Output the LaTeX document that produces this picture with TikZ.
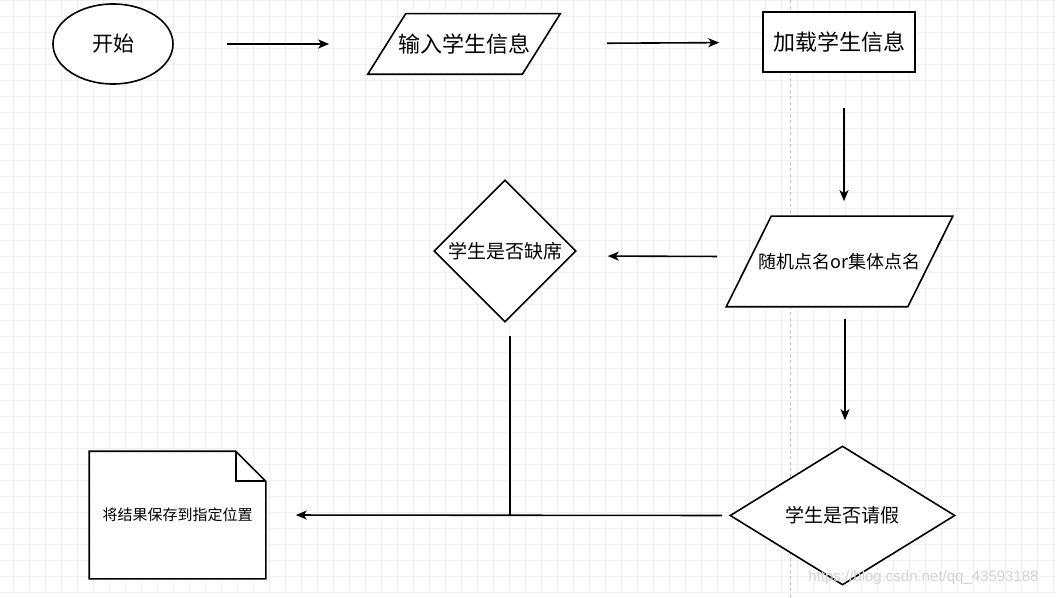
\documentclass[tikz,border=0pt]{standalone}
\usepackage{fontspec}
\setmainfont{Noto Sans CJK SC}
\newfontfamily\markfont{Liberation Sans}
\usetikzlibrary{arrows.meta,shapes.geometric,calc}

\begin{document}
\begin{tikzpicture}[x=1pt,y=1pt,line width=1.6pt,every node/.style={fill=white,inner sep=0pt},box/.style={draw,minimum width=152,minimum height=60},decision/.style={draw,diamond},arr/.style={-{Stealth[length=11pt,width=9pt,inset=3pt]}}]

\useasboundingbox[fill=white] (0,0) rectangle (1056,597);
\draw[gray!12,line width=0.6pt,step=16,shift={(13,5)}] (-13,-5) grid (1043,592);
\draw[gray!50,line width=0.6pt,dashed] (790,0) -- (790,597);

\node[draw,ellipse,minimum width=120,minimum height=80,font=\fontsize{21}{21}\selectfont] (start) at (113,553) {开始};
\node[fill=none,minimum width=191,minimum height=59] (input) at (464,553) {};
\draw[fill=white] ([xshift=38]input.north west) -- (input.north east) -- ([xshift=-38]input.south east) -- (input.south west) -- cycle;
\node[font=\fontsize{22}{22}\selectfont] at (input) {输入学生信息};
\node[box,font=\fontsize{22}{22}\selectfont] (load) at (839,555) {加载学生信息};
\node[fill=none,minimum width=225,minimum height=89] (call) at (839.5,335.5) {};
\draw[fill=white] ([xshift=45]call.north west) -- (call.north east) -- ([xshift=-45]call.south east) -- (call.south west) -- cycle;
\node[font=\fontsize{18}{18}\selectfont] at (call) {随机点名or集体点名};
\node[decision,minimum width=142,minimum height=142,font=\fontsize{19}{19}\selectfont] (absent) at (505,346) {学生是否缺席};
\node[decision,minimum width=225,minimum height=139,font=\fontsize{19}{19}\selectfont] (leave) at (842.5,81.5) {学生是否请假};
\node[fill=none,minimum width=175,minimum height=126] (doc) at (177.5,82) {};
\draw[fill=white] (doc.north west) -- ([xshift=-30]doc.north east) -- ([yshift=-30]doc.north east) -- (doc.south east) -- (doc.south west) -- cycle;
\draw ([xshift=-30]doc.north east) -- ++(0,-30) -- ([yshift=-30]doc.north east);
\node[font=\fontsize{15}{15}\selectfont] at (doc) {将结果保存到指定位置};

\draw[arr,shorten <=53,shorten >=38.5] (start) -- (input);
\draw[arr,shorten <=46.5,shorten >=43] (input) -- (load);
\draw[arr,shorten <=35,shorten >=15] ([xshift=5]load.south) -- ([xshift=5]load.south |- call.north);
\draw[arr,shorten <=9,shorten >=31] ([yshift=5]call.west) -- ([yshift=-5]absent.east);
\draw[arr,shorten <=12,shorten >=25] ([xshift=5.5]call.south) -- ([xshift=5.5]call.south |- leave.north);
\draw[arr,shorten <=7,shorten >=30] (leave.west) -- (doc.east);
\coordinate (join) at ([xshift=5]absent.south |- leave.west);
\draw[shorten <=13] ([xshift=5]absent.south) -- (join);

\node[fill=none,text=gray!35,font=\markfont\fontsize{15}{15}\selectfont] (mark) at (923.5,19) {https://blog.csdn.net/qq\_43593188};
\end{tikzpicture}
\end{document}
